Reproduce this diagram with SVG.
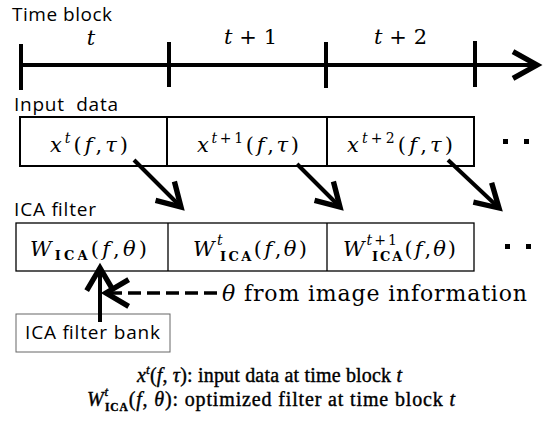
<svg xmlns="http://www.w3.org/2000/svg" width="547" height="421" viewBox="0 0 547 421">
<style>
.sans{font-family:"Open Sans","Liberation Sans",sans-serif;font-size:19px;fill:#000}
.m{font-family:"DejaVu Serif","Liberation Serif",serif;font-size:21px;fill:#000}
.lg{font-family:"Liberation Serif","DejaVu Serif",serif;font-size:20px;stroke:#000;stroke-width:0.4}
.i{font-style:italic}
.sup{font-size:14px;font-style:italic}
.sub{font-size:13px;font-weight:bold}
.lg .sup{font-size:13px}
.lg .sub{font-size:11.5px}
.tick{stroke:#000;stroke-width:4}
.cell{fill:#fff;stroke:#000}
.arr{stroke:#000;stroke-width:4;fill:none}
.dash{stroke:#000;stroke-width:3.5;stroke-dasharray:13 6;fill:none}
.dot{fill:#000}
</style>
<defs>
<marker id="chevL" markerUnits="userSpaceOnUse" markerWidth="40" markerHeight="40" viewBox="-25 -15 30 30" refX="0" refY="0" orient="auto" overflow="visible">
<path d="M-18,-10 L0,0 L-18,10" fill="none" stroke="#000" stroke-width="4"/>
</marker>
<marker id="chev" markerUnits="userSpaceOnUse" markerWidth="40" markerHeight="40" viewBox="-25 -15 30 30" refX="0" refY="0" orient="auto" overflow="visible">
<path d="M-17,-10 L0,0 L-17,10" fill="none" stroke="#000" stroke-width="4"/>
</marker>
</defs>
<rect width="547" height="421" fill="#fff"/>

<g id="timeline">
<text class="sans" x="12" y="21" textLength="100">Time block</text>
<line x1="21" y1="65" x2="537" y2="65" class="arr" marker-end="url(#chevL)"/>
<line x1="21" y1="44" x2="21" y2="90" class="tick"/>
<line x1="169" y1="42" x2="169" y2="87" class="tick"/>
<line x1="326" y1="42" x2="326" y2="88" class="tick"/>
<line x1="475" y1="41" x2="475" y2="87" class="tick"/>
<text class="m i" x="91" y="45" text-anchor="middle">t</text>
<text class="m" x="224" y="44" textLength="53"><tspan class="i">t</tspan> + 1</text>
<text class="m" x="374" y="44" textLength="53"><tspan class="i">t</tspan> + 2</text>
</g>

<g id="input-data">
<text class="sans" x="14" y="111" xml:space="preserve" textLength="104">Input  data</text>
<rect class="cell" x="20" y="117" width="454" height="49" stroke-width="2"/>
<line x1="167" y1="117" x2="167" y2="166" stroke="#000" stroke-width="2"/>
<line x1="327" y1="117" x2="327" y2="166" stroke="#000" stroke-width="2"/>
<g id="x-t">
<text class="m" x="50" y="152" textLength="78"><tspan class="i">x</tspan><tspan class="sup" dy="-9">t</tspan><tspan dy="9">(</tspan><tspan class="i">f</tspan>,<tspan class="i">τ</tspan>)</text>
</g>
<g id="x-t1">
<text class="m" x="197" y="152" textLength="102"><tspan class="i">x</tspan><tspan class="sup" dy="-9"><tspan class="i">t</tspan><tspan font-style="normal">+1</tspan></tspan><tspan dy="9">(</tspan><tspan class="i">f</tspan>,<tspan class="i">τ</tspan>)</text>
</g>
<g id="x-t2">
<text class="m" x="347" y="152" textLength="106"><tspan class="i">x</tspan><tspan class="sup" dy="-9"><tspan class="i">t</tspan><tspan font-style="normal">+2</tspan></tspan><tspan dy="9">(</tspan><tspan class="i">f</tspan>,<tspan class="i">τ</tspan>)</text>
</g>
<rect class="dot" x="503" y="139" width="5" height="5"/>
<rect class="dot" x="524" y="139" width="5" height="5"/>
</g>

<g id="ica-filter">
<text class="sans" x="14" y="216" textLength="82">ICA filter</text>
<rect class="cell" x="16" y="223" width="458" height="48" stroke-width="1.3"/>
<line x1="168" y1="223" x2="168" y2="271" stroke="#000" stroke-width="1.3"/>
<line x1="327" y1="223" x2="327" y2="271" stroke="#000" stroke-width="1.3"/>
<g id="w-ica">
<text class="m" x="30" y="256" textLength="117"><tspan class="i">W</tspan><tspan class="sub" dy="4">ICA</tspan><tspan dy="-4">(</tspan><tspan class="i">f</tspan>,<tspan class="i">θ</tspan>)</text>
</g>
<g id="w-t">
<text class="m" x="193" y="256" textLength="114"><tspan class="i">W</tspan><tspan class="sup" dy="-11">t</tspan><tspan class="sub" dx="-5" dy="16">ICA</tspan><tspan dy="-5">(</tspan><tspan class="i">f</tspan>,<tspan class="i">θ</tspan>)</text>
</g>
<g id="w-t1">
<text class="m" x="343" y="256" textLength="113"><tspan class="i">W</tspan><tspan class="sup" dy="-11"><tspan class="i">t</tspan><tspan font-style="normal">+1</tspan></tspan><tspan class="sub" dx="-27" dy="16">ICA</tspan><tspan dy="-5">(</tspan><tspan class="i">f</tspan>,<tspan class="i">θ</tspan>)</text>
</g>
<rect class="dot" x="505" y="244" width="5" height="5"/>
<rect class="dot" x="526" y="244" width="5" height="5"/>
</g>

<g id="filter-bank">
<rect x="16" y="314" width="154" height="38" fill="#fff" stroke="#666" stroke-width="1"/>
<text class="sans" x="25" y="339" textLength="135">ICA filter bank</text>
</g>

<g id="image-info">
<text class="m" x="222" y="301" font-size="22" textLength="305" style="font-size:22px"><tspan class="i">θ</tspan> from image information</text>
</g>

<g id="connectors">
<line x1="134" y1="160" x2="181" y2="207" class="arr" marker-end="url(#chev)"/>
<line x1="297" y1="164" x2="340" y2="207" class="arr" marker-end="url(#chev)"/>
<line x1="448" y1="160" x2="499" y2="208" class="arr" marker-end="url(#chev)"/>
<line x1="100" y1="322" x2="100" y2="268" class="arr" marker-end="url(#chev)"/>
<line x1="217" y1="293" x2="106" y2="293" class="dash" marker-end="url(#chev)"/>
</g>

<g id="legend">
<text class="lg" x="137" y="382" textLength="265"><tspan class="i">x</tspan><tspan class="sup" dy="-8">t</tspan><tspan dy="8">(</tspan><tspan class="i">f</tspan>, <tspan class="i">τ</tspan>): input data at time block <tspan class="i">t</tspan></text>
<text class="lg" x="87" y="406" textLength="368"><tspan class="i">W</tspan><tspan class="sup" dy="-10">t</tspan><tspan class="sub" dx="-4" dy="15">ICA</tspan><tspan dy="-5">(</tspan><tspan class="i">f</tspan>, <tspan class="i">θ</tspan>): optimized filter at time block <tspan class="i">t</tspan></text>
</g>
</svg>
